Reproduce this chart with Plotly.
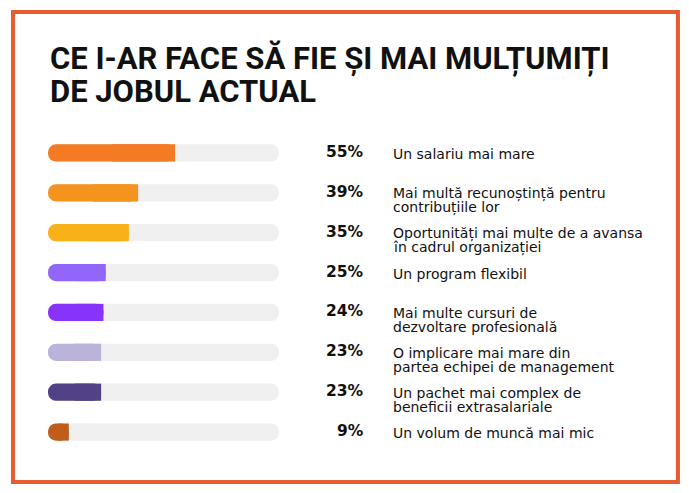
import plotly.graph_objects as go

title_lines = ["CE I-AR FACE SĂ FIE ȘI MAI MULȚUMIȚI", "DE JOBUL ACTUAL"]
labels = [
    "Un salariu mai mare",
    "Mai multă recunoștință pentru<br>contribuțiile lor",
    "Oportunități mai multe de a avansa<br>în cadrul organizației",
    "Un program flexibil",
    "Mai multe cursuri de<br>dezvoltare profesională",
    "O implicare mai mare din<br>partea echipei de management",
    "Un pachet mai complex de<br>beneficii extrasalariale",
    "Un volum de muncă mai mic",
]
values = [55, 39, 35, 25, 24, 23, 23, 9]
colors = ["#F47A24", "#F4931E", "#F9B11A", "#9266FA", "#8733FA", "#BBB3DA", "#524285", "#BF5E1B"]
total = 100

n = len(values)
pos = list(range(n))
BAR_W = 0.43
R = 9

fig = go.Figure()
# background track (explicit base -> both ends rounded)
fig.add_trace(go.Bar(
    x=[total] * n, base=[0] * n, y=pos, orientation="h", width=BAR_W,
    marker=dict(color="#F0F0F0", cornerradius=R, line=dict(width=0)),
    hoverinfo="skip", showlegend=False,
))
# value bars (explicit base -> both ends rounded)
fig.add_trace(go.Bar(
    x=values, base=[0] * n, y=pos, orientation="h", width=BAR_W,
    marker=dict(color=colors, cornerradius=R, line=dict(width=0)),
    hoverinfo="skip", showlegend=False,
))
# square off the right end of the value bars
fig.add_trace(go.Bar(
    x=[v / 2 for v in values], base=[v / 2 for v in values], y=pos, orientation="h", width=BAR_W,
    marker=dict(color=colors, line=dict(width=0)),
    hoverinfo="skip", showlegend=False,
))

annotations = []
for i, (v, lab) in enumerate(zip(values, labels)):
    annotations.append(dict(
        x=1.375, xref="paper", y=i, yref="y", text=f"<b>{v}%</b>",
        xanchor="right", yanchor="middle", showarrow=False, yshift=1,
        font=dict(family="DejaVu Sans", size=15.5, color="#111111"),
    ))
    for j, line in enumerate(lab.split("<br>")):
        annotations.append(dict(
            x=1.4848, xref="paper", y=i, yref="y", text=line,
            xanchor="left", yanchor="middle", showarrow=False, yshift=-14 * j - 1,
            font=dict(family="DejaVu Sans", size=14, color="#111111"),
        ))

for k, (line, yp) in enumerate(zip(title_lines, [1.232, 1.1287])):
    annotations.append(dict(
        x=0, xref="paper", y=yp, yref="paper", text=f"<b>{line}</b>",
        xanchor="left", yanchor="middle", showarrow=False,
        font=dict(family="Roboto", size=31, color="#111111"),
    ))

fig.update_layout(
    width=689, height=493,
    margin=dict(l=48, r=410, t=133, b=41),
    paper_bgcolor="white", plot_bgcolor="white",
    barmode="overlay",
    xaxis=dict(range=[0, total], visible=False, fixedrange=True),
    yaxis=dict(range=[n - 0.5, -0.5], visible=False, fixedrange=True),
    annotations=annotations,
    shapes=[dict(type="rect", xref="paper", yref="paper",
                 x0=-0.1515, x1=2.727, y0=-0.094, y1=1.3793,
                 line=dict(color="#E85A31", width=4), fillcolor="rgba(0,0,0,0)", layer="above")],
    showlegend=False,
)

fig.write_html("out.html")
